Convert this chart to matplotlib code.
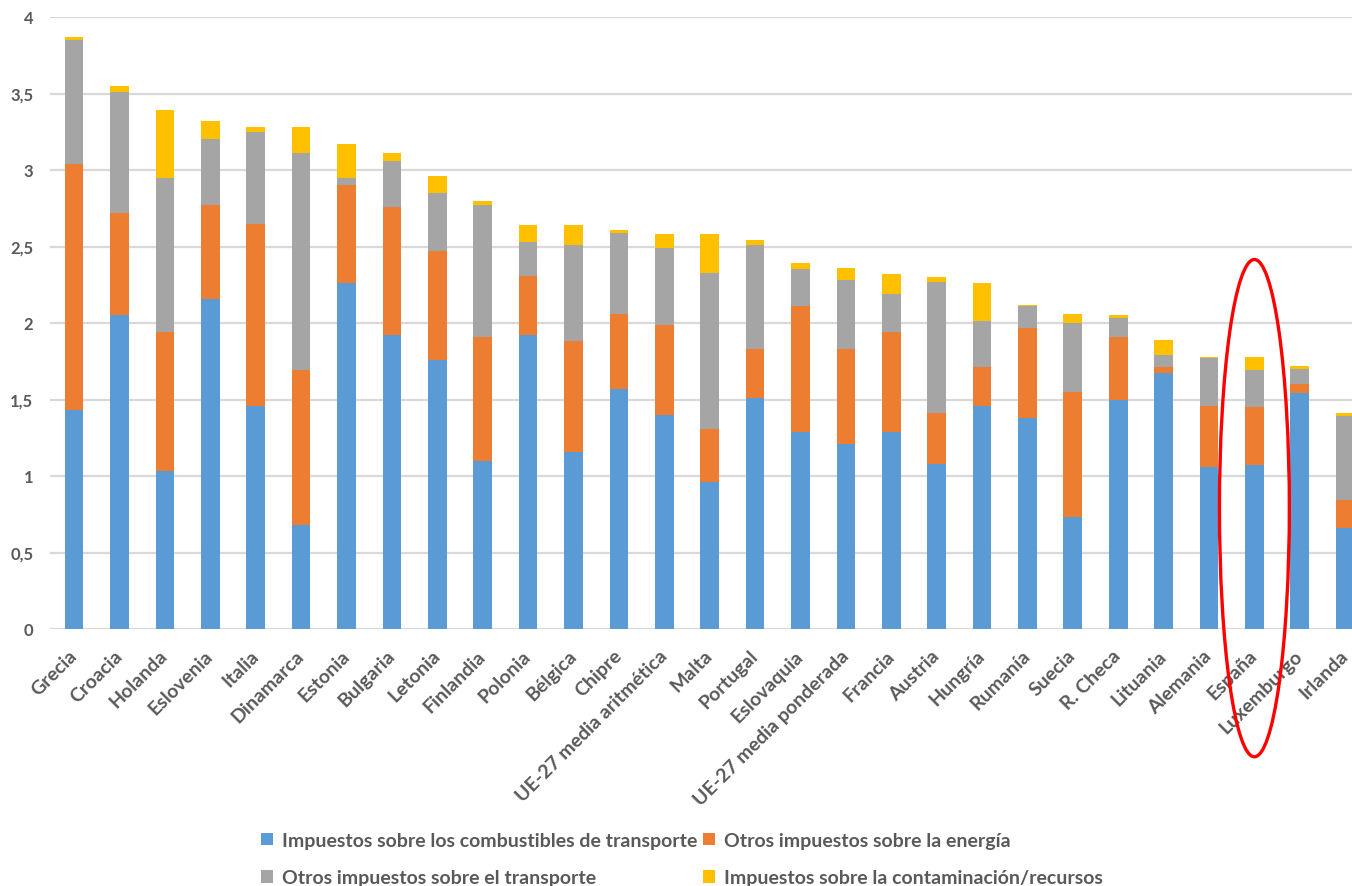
import numpy as np
import matplotlib.pyplot as plt
from matplotlib.patches import Ellipse

# Environmental tax revenue by component, % of GDP
paises = ["Grecia", "Croacia", "Holanda", "Eslovenia", "Italia", "Dinamarca",
          "Estonia", "Bulgaria", "Letonia", "Finlandia", "Polonia", "Bélgica",
          "Chipre", "UE-27 media aritmética", "Malta", "Portugal", "Eslovaquia",
          "UE-27 media ponderada", "Francia", "Austria", "Hungría", "Rumanía",
          "Suecia", "R. Checa", "Lituania", "Alemania", "España", "Luxemburgo",
          "Irlanda"]

combustibles = [1.43, 2.05, 1.03, 2.16, 1.46, 0.68, 2.26, 1.92, 1.76, 1.10,
                1.92, 1.16, 1.57, 1.40, 0.96, 1.51, 1.29, 1.21, 1.29, 1.08,
                1.46, 1.38, 0.73, 1.50, 1.67, 1.06, 1.07, 1.54, 0.66]
energia = [1.61, 0.67, 0.91, 0.61, 1.19, 1.01, 0.64, 0.84, 0.71, 0.81,
           0.39, 0.72, 0.49, 0.59, 0.35, 0.32, 0.82, 0.62, 0.65, 0.33,
           0.25, 0.59, 0.82, 0.41, 0.04, 0.40, 0.38, 0.06, 0.18]
transporte = [0.81, 0.79, 1.01, 0.43, 0.60, 1.42, 0.05, 0.30, 0.38, 0.86,
              0.22, 0.63, 0.53, 0.50, 1.02, 0.68, 0.24, 0.45, 0.25, 0.86,
              0.30, 0.14, 0.45, 0.12, 0.08, 0.31, 0.24, 0.10, 0.55]
contaminacion = [0.02, 0.04, 0.44, 0.12, 0.03, 0.17, 0.22, 0.05, 0.11, 0.03,
                 0.11, 0.13, 0.02, 0.09, 0.25, 0.03, 0.04, 0.08, 0.13, 0.03,
                 0.25, 0.01, 0.06, 0.02, 0.10, 0.01, 0.09, 0.02, 0.02]

series = [
    ("Impuestos sobre los combustibles de transporte", combustibles, "#5B9BD5"),
    ("Otros impuestos sobre la energía", energia, "#ED7D31"),
    ("Otros impuestos sobre el transporte", transporte, "#A5A5A5"),
    ("Impuestos sobre la contaminación/recursos", contaminacion, "#FFC000"),
]
resaltado = "España"

plt.rcParams["font.family"] = ["Lato", "DejaVu Sans"]
texto = "#595959"

fig = plt.figure(figsize=(13.52, 8.87), dpi=100)
ax = fig.add_axes([50 / 1352, 1 - 630 / 887, 1 - 50 / 1352, (630 - 18) / 887])

x = np.arange(len(paises))
base = np.zeros(len(paises))
barras = {}
for nombre, valores, color in series:
    barras[nombre] = ax.bar(x, valores, 0.41, bottom=base, color=color,
                            zorder=3)
    base = base + np.array(valores)

ax.set_ylim(0, 4)
ax.set_xlim(-0.53, 28.15)
yt = np.arange(0, 4.01, 0.5)
ax.set_yticks(yt)
ax.set_yticklabels([f"{v:g}".replace(".", ",") for v in yt])
ax.grid(axis="y", color="#D9D9D9", lw=1.6, zorder=0)
for s in ax.spines.values():
    s.set_visible(False)
ax.tick_params(axis="both", length=0, colors=texto)
ax.tick_params(axis="y", pad=12, labelsize=12)
ax.tick_params(axis="x", pad=17, labelsize=14)
ax.set_xticks(x)
ax.set_xticklabels(paises, rotation=45, ha="right", va="center",
                   rotation_mode="anchor", fontweight="bold")
for lab in ax.get_yticklabels():
    lab.set_fontweight("bold")

# highlight ring around Spain
i = paises.index(resaltado)
ax.add_patch(Ellipse((i, 0.79), 1.54, 3.25, fill=False, ec="red", lw=2.4,
                     clip_on=False, zorder=5))

orden = [series[0], series[2], series[1], series[3]]
fig.legend([barras[n] for n, _, _ in orden], [n for n, _, _ in orden],
           ncol=2, loc="upper left", bbox_to_anchor=(261 / 1352, 1 - 833 / 887),
           frameon=False, handlelength=0.62, handleheight=0.62,
           handletextpad=0.45, columnspacing=0.3, labelspacing=1.05,
           prop={"size": 14, "weight": "bold"}, labelcolor=texto,
           borderaxespad=0, borderpad=0)

fig.savefig("out.png", dpi=100)
